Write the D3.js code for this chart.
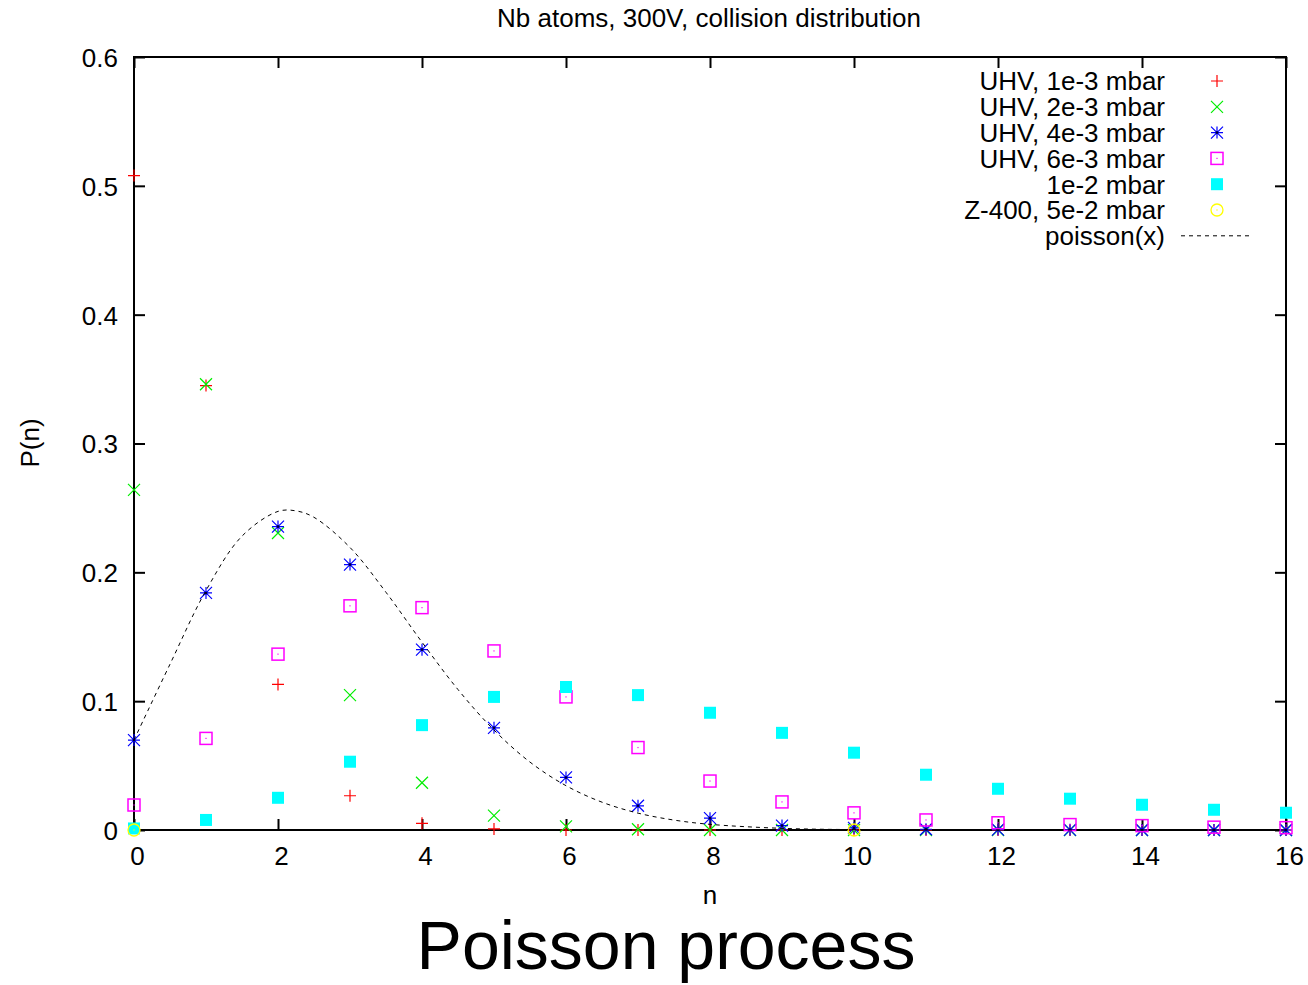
<!DOCTYPE html>
<html>
<head>
<meta charset="utf-8">
<script src="https://cdn.jsdelivr.net/npm/d3@7"></script>
<style>
  html, body { margin: 0; padding: 0; background: #fff; }
  svg { display: block; }
  text { font-family: "Liberation Sans", Arial, Helvetica, sans-serif; fill: #000; }
</style>
</head>
<body>
<svg id="chart" width="1308" height="985"></svg>
<script>
// ---- data ----
const nValues = [0,1,2,3,4,5,6,7,8,9,10,11,12,13,14,15,16];
const uhv1e3 = [0.508,0.345,0.113,0.0266,0.0052,0.0008,0,0,0,0,0,0,0,0,0,0,0];
const uhv2e3 = [0.264,0.346,0.2305,0.1047,0.0367,0.0112,0.0028,0.0006,0,0,0,0,0,0,0,0,0];
const uhv4e3 = [0.0698,0.184,0.2355,0.206,0.140,0.0793,0.0408,0.0188,0.0092,0.0034,0.0016,0.0006,0.0003,0.0001,0,0,0];
const uhv6e3 = [0.0194,0.0711,0.1365,0.174,0.1726,0.139,0.1033,0.064,0.038,0.0218,0.0133,0.0078,0.0056,0.0042,0.0034,0.0022,0.0018];
const mbar1e2 = [0.0012,0.0078,0.025,0.053,0.0814,0.1033,0.111,0.1047,0.091,0.0754,0.060,0.0429,0.032,0.0243,0.0196,0.0157,0.0134];
const z400N = [0,10];
const z400 = [0,0];
const poissonX = [0,0.5,1,1.5,2,2.25,2.5,3,3.5,4,4.5,5,5.5,6,6.5,7,7.5,8,9,10,11,12,13,14,15,16];
const poissonY = [0.0699,0.1287,0.1859,0.2281,0.2473,0.2477,0.2427,0.2193,0.1845,0.1458,0.1090,0.0776,0.0527,0.0344,0.0216,0.0131,0.0077,0.0044,0.0013,0.0003,0.0001,0,0,0,0,0];
const xTicks = [0,2,4,6,8,10,12,14,16];
const yTicks = [0,0.1,0.2,0.3,0.4,0.5,0.6];
const yTickLabels = ["0","0.1","0.2","0.3","0.4","0.5","0.6"];
const seriesNames = ["UHV, 1e-3 mbar","UHV, 2e-3 mbar","UHV, 4e-3 mbar","UHV, 6e-3 mbar","1e-2 mbar","Z-400, 5e-2 mbar","poisson(x)"];
const titleText = "Nb atoms, 300V, collision distribution";
const xLabel = "n";
const yLabel = "P(n)";
const bottomText = "Poisson process";

// ---- layout ----
const L = 134, R = 1286, T = 57, B = 830;
const FS = 26;
const svg = d3.select("#chart");
const x = d3.scaleLinear().domain([0,16]).range([L,R]);
const y = d3.scaleLinear().domain([0,0.6]).range([B,T]);

// axes with inward ticks
const tickLen = 11;
const gx = svg.append("g").attr("transform",`translate(0,${B})`)
  .call(d3.axisBottom(x).tickValues(xTicks).tickFormat(d3.format("d")).tickSize(-tickLen).tickPadding(17));
const gxt = svg.append("g").attr("transform",`translate(0,${T})`)
  .call(d3.axisTop(x).tickValues(xTicks).tickFormat("").tickSize(-tickLen));
const gy = svg.append("g").attr("transform",`translate(${L},0)`)
  .call(d3.axisLeft(y).tickValues(yTicks).tickFormat((d,i)=>yTickLabels[i]).tickSize(-tickLen).tickPadding(16));
const gyr = svg.append("g").attr("transform",`translate(${R},0)`)
  .call(d3.axisRight(y).tickValues(yTicks).tickFormat("").tickSize(-tickLen));
[gx,gxt,gy,gyr].forEach(g=>{
  g.select(".domain").remove();
  g.selectAll(".tick line").attr("stroke","#000").attr("stroke-width",2);
  g.selectAll(".tick text").attr("font-size",FS).attr("font-family","Liberation Sans, Arial, sans-serif").attr("fill","#000");
});
gy.selectAll(".tick text").attr("dy","0.36em");
gx.selectAll(".tick text").attr("dx",3);

// frame
svg.append("rect").attr("x",L).attr("y",T).attr("width",R-L).attr("height",B-T)
  .attr("fill","none").attr("stroke","#000").attr("stroke-width",2);

// marker drawing
const S = 6;
function drawMarker(g, type, color, cx, cy) {
  if (type === "plus") {
    g.append("path").attr("d",`M${cx-S},${cy}H${cx+S}M${cx},${cy-S}V${cy+S}`).attr("stroke",color).attr("stroke-width",1.2).attr("fill","none");
  } else if (type === "cross") {
    g.append("path").attr("d",`M${cx-S},${cy-S}L${cx+S},${cy+S}M${cx-S},${cy+S}L${cx+S},${cy-S}`).attr("stroke",color).attr("stroke-width",1.2).attr("fill","none");
  } else if (type === "star") {
    g.append("path").attr("d",`M${cx-S},${cy}H${cx+S}M${cx},${cy-S}V${cy+S}M${cx-S},${cy-S}L${cx+S},${cy+S}M${cx-S},${cy+S}L${cx+S},${cy-S}`).attr("stroke",color).attr("stroke-width",1.2).attr("fill","none");
    g.append("circle").attr("cx",cx).attr("cy",cy).attr("r",1.3).attr("fill","#000033");
  } else if (type === "box") {
    g.append("rect").attr("x",cx-S).attr("y",cy-S).attr("width",2*S).attr("height",2*S).attr("fill","none").attr("stroke",color).attr("stroke-width",1.5);
    g.append("rect").attr("x",cx-0.6).attr("y",cy-0.6).attr("width",1.2).attr("height",1.2).attr("fill",color);
  } else if (type === "fbox") {
    g.append("rect").attr("x",cx-S).attr("y",cy-S).attr("width",2*S).attr("height",2*S).attr("fill",color);
  } else if (type === "circle") {
    g.append("circle").attr("cx",cx).attr("cy",cy).attr("r",S).attr("fill","none").attr("stroke",color).attr("stroke-width",1.3);
    g.append("rect").attr("x",cx-0.6).attr("y",cy-0.6).attr("width",1.2).attr("height",1.2).attr("fill",color);
  }
}

const series = [
  {xs:nValues, ys:uhv1e3, type:"plus", color:"#ff0000"},
  {xs:nValues, ys:uhv2e3, type:"cross", color:"#00ee00"},
  {xs:nValues, ys:uhv4e3, type:"star", color:"#0000ff"},
  {xs:nValues, ys:uhv6e3, type:"box", color:"#ff00ff"},
  {xs:nValues, ys:mbar1e2, type:"fbox", color:"#00ffff"},
  {xs:z400N, ys:z400, type:"circle", color:"#ffff00"}
];

const plot = svg.append("g");
series.forEach(s=>{
  const g = plot.append("g");
  s.xs.forEach((n,i)=>drawMarker(g, s.type, s.color, x(n), y(s.ys[i])));
});

// poisson curve
const line = d3.line().x((d,i)=>x(poissonX[i])).y(d=>y(d)).curve(d3.curveCatmullRom.alpha(0.5));
plot.append("path").attr("d",line(poissonY)).attr("fill","none").attr("stroke","#000").attr("stroke-width",1).attr("stroke-dasharray","4,4");

// legend
const legTextX = 1165, legMarkX = 1217, legY0 = 81, legDy = 25.8;
seriesNames.forEach((name,i)=>{
  const yy = legY0 + i*legDy;
  svg.append("text").attr("x",legTextX).attr("y",yy).attr("dy","0.36em").attr("text-anchor","end").attr("font-size",FS).text(name);
  if (i < series.length) {
    drawMarker(svg, series[i].type, series[i].color, legMarkX, yy);
  } else {
    svg.append("line").attr("x1",1181).attr("x2",1249).attr("y1",yy).attr("y2",yy).attr("stroke","#000").attr("stroke-width",1).attr("stroke-dasharray","4,4");
  }
});

// titles
svg.append("text").attr("x",709).attr("y",18).attr("dy","0.36em").attr("text-anchor","middle").attr("font-size",FS).text(titleText);
svg.append("text").attr("x",710).attr("y",895).attr("dy","0.36em").attr("text-anchor","middle").attr("font-size",FS).text(xLabel);
svg.append("text").attr("transform","translate(30,443) rotate(-90)").attr("dy","0.36em").attr("text-anchor","middle").attr("font-size",FS).text(yLabel);
svg.append("text").attr("x",666).attr("y",969).attr("text-anchor","middle").attr("font-size",68).text(bottomText);
</script>
</body>
</html>
